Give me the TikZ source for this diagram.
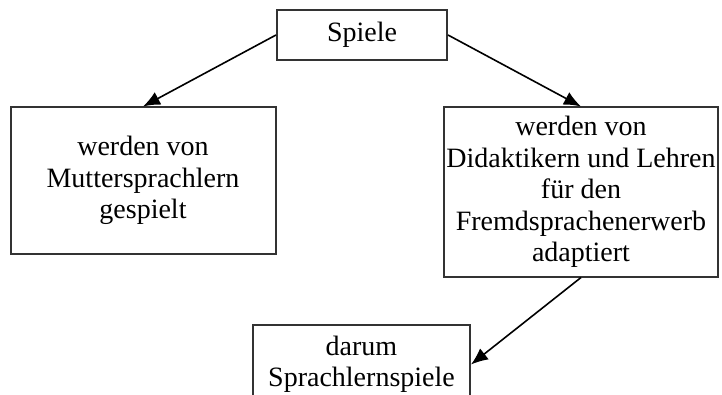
\documentclass[tikz,border=0pt]{standalone}
\usepackage{fontspec}
\setmainfont{Liberation Serif}
\usetikzlibrary{arrows.meta}

\begin{document}
\begin{tikzpicture}[
			x=1pt,y=1pt,
			box/.style={draw=black!80,line width=2pt,align=center,inner sep=0pt,
					font=\fontsize{28}{31.5}\selectfont},
			edge from parent/.style={draw,line width=1.6pt,-{Latex[length=17pt,width=14pt]}},
			level 1/.style={level distance=71.5pt,sibling distance=438pt,child anchor=north},
			level 2/.style={level distance=131.5pt,parent anchor=south,child anchor=east}
		]
		\useasboundingbox (0,0) rectangle (722,394);
		\clip (0,0) rectangle (722,394);
		\node[box,minimum width=170pt,minimum height=50pt] (spiele) at (362,359) {Spiele}
		child[parent anchor=west] {
				node[box,anchor=north,minimum width=265pt,minimum height=146pt] (mutter)
				{werden von\\Muttersprachlern\\gespielt}
			}
		child[parent anchor=east] {
				node[box,anchor=north,minimum width=274pt,minimum height=169pt] (didaktik)
				{werden von\\Didaktikern und Lehren\\f\"ur den\\Fremdsprachenerwerb\\adaptiert}
				child {
						node[box,anchor=north,xshift=-219.5pt,minimum width=217pt,minimum height=80pt] (lernspiele)
						{darum\\Sprachlernspiele}
					}
			};
	\end{tikzpicture}
\end{document}
